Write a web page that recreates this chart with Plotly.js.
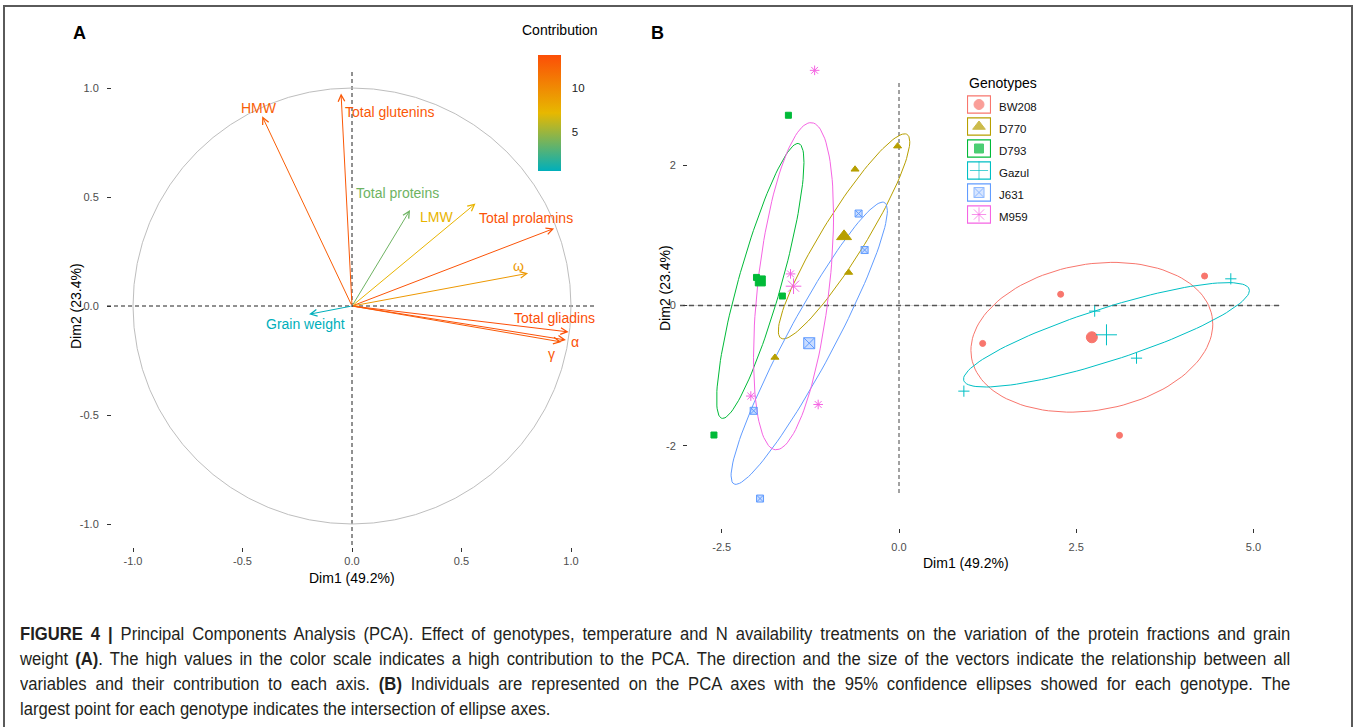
<!DOCTYPE html>
<html>
<head>
<meta charset="utf-8">
<script src="https://cdn.plot.ly/plotly-3.0.1.min.js"></script>
<style>
  html, body { margin: 0; padding: 0; background: #fff; }
  #wrap { position: relative; width: 1357px; height: 727px; overflow: hidden; }
  #chart { position: absolute; left: 0; top: 0; width: 1357px; height: 727px; }
  #caption { position: absolute; left: 20px; top: 621.5px; font-family: 'Liberation Sans', Arial, Helvetica, sans-serif;
             font-size: 17.5px; line-height: 25px; color: #231F20; }
  #caption .ln { width: 1337px; transform: scaleX(0.95); transform-origin: 0 0; height: 25px; }
  #caption .just { text-align: justify; text-align-last: justify; }
  #caption .last { text-align: left; }
</style>
</head>
<body>
<div id="wrap">
  <div id="chart"></div>
  <div id="caption"></div>
</div>
<script>
// ---------------- DATA ----------------
// Panel A: variables (correlation circle)
const varNames   = ['HMW', 'Total glutenins', 'Total proteins', 'LMW', 'Total prolamins', 'ω', 'Total gliadins', 'α', 'γ', 'Grain weight'];
const varDim1    = [-0.41, -0.05, 0.265, 0.564, 0.923, 0.804, 0.989, 0.977, 0.956, -0.196];
const varDim2    = [0.87, 0.975, 0.44, 0.47, 0.356, 0.15, -0.119, -0.156, -0.165, -0.038];
const varContrib = [12.7, 13.1, 3.7, 7.4, 13.4, 9.1, 13.7, 13.5, 13.0, 0.57];

// Panel B: individuals per genotype
const genotypes = ['BW208', 'D770', 'D793', 'Gazul', 'J631', 'M959'];
const indDim1 = [
  [4.31, 2.28, 1.18, 3.11],
  [-0.02, -0.62, -0.71, -1.75],
  [-1.56, -2.01, -1.645, -2.61],
  [4.68, 2.76, 3.35, 0.915],
  [-0.57, -0.485, -2.05, -1.96],
  [-1.19, -1.53, -2.09, -1.14]
];
const indDim2 = [
  [0.42, 0.16, -0.54, -1.85],
  [2.27, 1.94, 0.47, -0.74],
  [2.71, 0.40, 0.135, -1.845],
  [0.38, -0.08, -0.75, -1.22],
  [1.31, 0.79, -1.50, -2.75],
  [3.35, 0.45, -1.29, -1.41]
];

// Tick labels
const aTickVals = [-1, -0.5, 0, 0.5, 1];
const aTickText = ['-1.0', '-0.5', '0.0', '0.5', '1.0'];
const bXTickVals = [-2.5, 0, 2.5, 5];
const bXTickText = ['-2.5', '0.0', '2.5', '5.0'];
const bYTickVals = [-2, 0, 2];
const bYTickText = ['-2', '0', '2'];
const cbTickVals = [5, 10];
const cbTickText = ['5', '10'];

// Caption
const captionLines = [
  '<b>FIGURE 4 |</b> Principal Components Analysis (PCA). Effect of genotypes, temperature and N availability treatments on the variation of the protein fractions and grain',
  'weight <b>(A)</b>. The high values in the color scale indicates a high contribution to the PCA. The direction and the size of the vectors indicate the relationship between all',
  'variables and their contribution to each axis. <b>(B)</b> Individuals are represented on the PCA axes with the 95% confidence ellipses showed for each genotype. The',
  'largest point for each genotype indicates the intersection of ellipse axes.'
];

// ---------------- STYLE ----------------
const W = 1357, H = 727;
const fx = px => px / W;
const fy = py => 1 - py / H;
const FONT = 'Liberation Sans, Arial, Helvetica, sans-serif';
const gradient = ['#00AFBB', '#E7B800', '#FC4E07'];
const groupColors = ['#F8766D', '#B79F00', '#00BA38', '#00BFC4', '#619CFF', '#F564E3'];
const groupFill   = ['#F8766D', '#B79F00', '#00BA38', '#00BFC4', 'rgba(97,156,255,0.35)', '#F564E3'];
const groupSymbols = ['circle', 'triangle-up', 'square', 'cross-thin-open', 'square-x', 'asterisk-open'];
const smallSizes = [6, 7, 6, 8, 7, 8];
const bigSizes = [11, 13, 10, 15, 11, 13];
// label offsets (px) from arrow tip: [xshift, yshift]
const labelShift = {
  'HMW': [-3, 8], 'Total glutenins': [49, -19], 'Total proteins': [-13, 17], 'LMW': [-39, -13],
  'Total prolamins': [-28, 10], 'ω': [-10, 7], 'Total gliadins': [-14, 14], 'α': [9, -2],
  'γ': [-10, -12], 'Grain weight': [-4, -10]
};
const ellScaleX = 1.29, ellScaleY = 1.05;

// ---------------- HELPERS ----------------
function hexToRgb(h) { return [1,3,5].map(i => parseInt(h.slice(i, i+2), 16)); }
const cmin = Math.min(...varContrib), cmax = Math.max(...varContrib);
function contribColor(v) {
  let t = (v - cmin) / (cmax - cmin);
  t = Math.max(0, Math.min(1, t));
  const seg = t < 0.5 ? 0 : 1;
  const lt = t < 0.5 ? t / 0.5 : (t - 0.5) / 0.5;
  const a = hexToRgb(gradient[seg]), b = hexToRgb(gradient[seg + 1]);
  const c = a.map((x, i) => Math.round(x + (b[i] - x) * lt));
  return 'rgb(' + c.join(',') + ')';
}
const mean = arr => arr.reduce((s, v) => s + v, 0) / arr.length;
function ellipse(xs, ys) {
  const n = xs.length, mx = mean(xs), my = mean(ys);
  let sxx = 0, syy = 0, sxy = 0;
  for (let i = 0; i < n; i++) {
    const dx = xs[i] - mx, dy = ys[i] - my;
    sxx += dx * dx; syy += dy * dy; sxy += dx * dy;
  }
  sxx /= (n - 1); syy /= (n - 1); sxy /= (n - 1);
  const l11 = Math.sqrt(sxx), l21 = sxy / l11, l22 = Math.sqrt(Math.max(syy - l21 * l21, 0));
  const ex = [], ey = [];
  for (let k = 0; k <= 120; k++) {
    const t = 2 * Math.PI * k / 120, u = Math.cos(t), v = Math.sin(t);
    ex.push(mx + ellScaleX * l11 * u);
    ey.push(my + ellScaleY * (l21 * u + l22 * v));
  }
  return { x: ex, y: ey };
}

// ---------------- TRACES ----------------
const traces = [];
traces.push({
  type: 'scatter', mode: 'markers', x: varDim1, y: varDim2, xaxis: 'x', yaxis: 'y',
  hoverinfo: 'skip', showlegend: false,
  marker: {
    size: 1, opacity: 0, color: varContrib, cmin: cmin, cmax: cmax,
    colorscale: [[0, gradient[0]], [0.5, gradient[1]], [1, gradient[2]]],
    showscale: true,
    colorbar: {
      x: fx(538), xanchor: 'left', xpad: 0, ypad: 0,
      y: fy(55), yanchor: 'top', len: 116, lenmode: 'pixels',
      thickness: 23, thicknessmode: 'pixels', outlinewidth: 0,
      tickvals: cbTickVals, ticktext: cbTickText,
      ticks: 'outside', ticklen: 9, tickcolor: 'rgba(0,0,0,0)',
      tickfont: { family: FONT, size: 11.5, color: '#222' }
    }
  }
});

genotypes.forEach((g, i) => {
  const e = ellipse(indDim1[i], indDim2[i]);
  traces.push({
    type: 'scatter', mode: 'lines', x: e.x, y: e.y, xaxis: 'x2', yaxis: 'y2',
    line: { color: groupColors[i], width: 1 }, hoverinfo: 'skip', showlegend: false
  });
});
genotypes.forEach((g, i) => {
  traces.push({
    type: 'scatter', mode: 'markers', x: indDim1[i], y: indDim2[i], xaxis: 'x2', yaxis: 'y2',
    name: g, showlegend: false, cliponaxis: false,
    marker: { symbol: groupSymbols[i], size: smallSizes[i], color: groupFill[i], line: { width: 1, color: groupColors[i] } }
  });
  traces.push({
    type: 'scatter', mode: 'markers', x: [mean(indDim1[i])], y: [mean(indDim2[i])], xaxis: 'x2', yaxis: 'y2',
    name: g + ' mean', showlegend: false, cliponaxis: false,
    marker: { symbol: groupSymbols[i], size: bigSizes[i], color: groupFill[i], line: { width: 1, color: groupColors[i] } }
  });
});
// custom legend keys
traces.push({
  type: 'scatter', mode: 'markers', xaxis: 'x3', yaxis: 'y3',
  x: genotypes.map(() => 0.5), y: genotypes.map((g, i) => i),
  hoverinfo: 'skip', showlegend: false,
  marker: { symbol: groupSymbols, size: [10, 11, 9, 13, 10, 12], color: groupFill, line: { width: 1, color: groupColors } }
});

// ---------------- SHAPES ----------------
const shapes = [];
shapes.push({ type: 'rect', xref: 'paper', yref: 'paper', x0: fx(4), x1: fx(1352), y0: fy(760), y1: fy(6),
  line: { color: '#5a5a5a', width: 2 }, layer: 'below' });
shapes.push({ type: 'circle', xref: 'x', yref: 'y', x0: -1, x1: 1, y0: -1, y1: 1,
  line: { color: '#BEBEBE', width: 1 }, layer: 'below' });
shapes.push({ type: 'line', xref: 'paper', yref: 'y', x0: fx(107), x1: fx(594), y0: 0, y1: 0,
  line: { color: '#222', width: 1, dash: '4px,3px' }, layer: 'below' });
shapes.push({ type: 'line', xref: 'x', yref: 'paper', x0: 0, x1: 0, y0: fy(72), y1: fy(546),
  line: { color: '#222', width: 1, dash: '4px,3px' }, layer: 'below' });
shapes.push({ type: 'line', xref: 'paper', yref: 'y2', x0: fx(680), x1: fx(1280), y0: 0, y1: 0,
  line: { color: '#dcdcdc', width: 1 }, layer: 'below' });
shapes.push({ type: 'line', xref: 'paper', yref: 'y2', x0: fx(680), x1: fx(1280), y0: 0, y1: 0,
  line: { color: '#555', width: 1.3, dash: '5px,4px' }, layer: 'below' });
shapes.push({ type: 'line', xref: 'x2', yref: 'paper', x0: 0, x1: 0, y0: fy(83), y1: fy(493),
  line: { color: '#444', width: 1, dash: '4px,3px' }, layer: 'below' });
genotypes.forEach((g, i) => {
  shapes.push({ type: 'rect', xref: 'x3', yref: 'y3', x0: 0.02, x1: 0.98, y0: i - 0.39, y1: i + 0.39,
    line: { color: groupColors[i], width: 1.2 }, fillcolor: 'rgba(0,0,0,0)', layer: 'below' });
});

// ---------------- ANNOTATIONS ----------------
const ann = [];
varNames.forEach((nm, i) => {
  const col = contribColor(varContrib[i]);
  ann.push({ xref: 'x', yref: 'y', axref: 'x', ayref: 'y', x: varDim1[i], y: varDim2[i], ax: 0, ay: 0,
    text: '', showarrow: true, arrowhead: 5, arrowsize: 1.3, arrowwidth: 1, arrowcolor: col,
    standoff: 0, startstandoff: 0 });
  const sh = labelShift[nm];
  ann.push({ xref: 'x', yref: 'y', x: varDim1[i], y: varDim2[i], xshift: sh[0], yshift: sh[1],
    xanchor: 'center', yanchor: 'middle',
    text: nm, showarrow: false, font: { family: FONT, size: 14, color: col } });
});
function paperText(px, py, text, font, extra) {
  return Object.assign({ xref: 'paper', yref: 'paper', x: fx(px), y: fy(py), xanchor: 'center', yanchor: 'middle',
    text: text, showarrow: false, font: font }, extra || {});
}
ann.push(paperText(71, 33, '<b>A</b>', { family: FONT, size: 18, color: '#000' }, { xanchor: 'left' }));
ann.push(paperText(649, 33, '<b>B</b>', { family: FONT, size: 18, color: '#000' }, { xanchor: 'left' }));
const axT = { family: FONT, size: 14, color: '#000' };
ann.push(paperText(352, 578, 'Dim1 (49.2%)', axT));
ann.push(paperText(76, 306, 'Dim2 (23.4%)', axT, { textangle: -90 }));
ann.push(paperText(966, 563, 'Dim1 (49.2%)', axT));
ann.push(paperText(665, 288, 'Dim2 (23.4%)', axT, { textangle: -90 }));
ann.push(paperText(560, 30, 'Contribution', { family: FONT, size: 14, color: '#000' }));
ann.push(paperText(967, 83, 'Genotypes', { family: FONT, size: 14, color: '#000' }, { xanchor: 'left' }));
genotypes.forEach((g, i) => {
  ann.push({ xref: 'paper', yref: 'y3', x: fx(997), y: i, xanchor: 'left', yanchor: 'middle', yshift: -2,
    text: g, showarrow: false, font: { family: FONT, size: 11.5, color: '#111' } });
});

// ---------------- LAYOUT ----------------
const tickFont = { family: FONT, size: 11, color: '#4D4D4D' };
const baseAxis = { showgrid: false, zeroline: false, showline: false, ticks: 'outside', ticklen: 4,
  tickcolor: '#333', tickwidth: 1, tickfont: tickFont, fixedrange: true };

const layout = {
  width: W, height: H, margin: { l: 0, r: 0, t: 0, b: 0 },
  paper_bgcolor: 'rgba(0,0,0,0)', plot_bgcolor: 'rgba(0,0,0,0)', showlegend: false,
  font: { family: FONT },
  xaxis: Object.assign({}, baseAxis, { domain: [fx(112), fx(594)], range: [(112 - 352) / 219, (594 - 352) / 219],
    tickvals: aTickVals, ticktext: aTickText, anchor: 'y', ticklabelstandoff: 0 }),
  yaxis: Object.assign({}, baseAxis, { domain: [fy(547), fy(72)], range: [(306 - 547) / 218, (306 - 72) / 218],
    tickvals: aTickVals, ticktext: aTickText, anchor: 'x', ticklabelstandoff: 6 }),
  xaxis2: Object.assign({}, baseAxis, { domain: [fx(688), fx(1282)], range: [(688 - 899) / 70.9, (1282 - 899) / 70.9],
    tickvals: bXTickVals, ticktext: bXTickText, anchor: 'y2', ticklabelstandoff: 5 }),
  yaxis2: Object.assign({}, baseAxis, { domain: [fy(528), fy(60)], range: [(305.5 - 528) / 70.2, (305.5 - 60) / 70.2],
    tickvals: bYTickVals, ticktext: bYTickText, anchor: 'x2', ticklabelstandoff: 5 }),
  xaxis3: { domain: [fx(967), fx(991)], range: [0, 1], visible: false, anchor: 'y3', fixedrange: true },
  yaxis3: { domain: [fy(225.5), fy(93.5)], range: [5.5, -0.5], visible: false, anchor: 'x3', fixedrange: true },
  shapes: shapes,
  annotations: ann
};

Plotly.newPlot('chart', traces, layout, { staticPlot: true, displayModeBar: false });

// caption (justified, like the journal layout)
const cap = document.getElementById('caption');
captionLines.forEach((t, i) => {
  const d = document.createElement('div');
  d.className = 'ln ' + (i < captionLines.length - 1 ? 'just' : 'last');
  d.innerHTML = t;
  cap.appendChild(d);
});
</script>
</body>
</html>
